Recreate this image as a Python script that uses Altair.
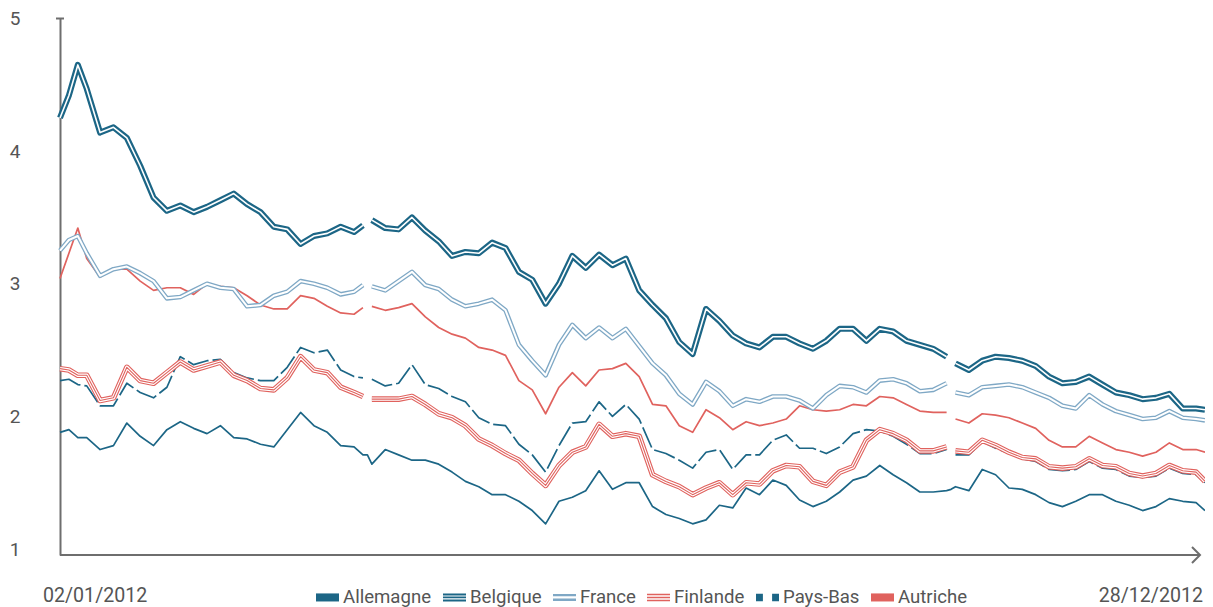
import altair as alt
import pandas as pd

# trading-day index (0 = 02/01/2012, 257 = 28/12/2012); None = missing quote
days = [0, 2, 4, 6,
        9, 12, 15, 18, 21, 24, 27, 30, 33, 36, 39, 42, 45, 48, 51, 54, 57, 60, 63, 66,
        68, 69, 70,
        73, 76, 79, 82, 85, 88, 91, 94, 97, 100, 103, 106, 109, 112, 115, 118, 121, 124,
        127, 130, 133, 136, 139, 142, 145, 148, 151, 154, 157, 160, 163, 166, 169, 172,
        175, 178, 181, 184, 187, 190, 193, 196,
        199, 200, 201,
        204, 207, 210, 213, 216, 219, 222, 225, 228, 231, 234, 237, 240, 243, 246, 249,
        252, 255, 257]

belgique = [4.25, 4.42, 4.65, 4.47,
            4.14, 4.18, 4.10, 3.89, 3.65, 3.55, 3.59, 3.54, 3.58, 3.63, 3.68, 3.60, 3.54, 3.43, 3.41, 3.30, 3.36, 3.38, 3.43, 3.39,
            3.44, None, 3.48,
            3.42, 3.41, 3.50, 3.40, 3.32, 3.21, 3.24, 3.23, 3.31, 3.27, 3.09, 3.03, 2.85, 3.00, 3.21, 3.12, 3.22, 3.14,
            3.19, 2.95, 2.84, 2.74, 2.56, 2.47, 2.81, 2.72, 2.61, 2.55, 2.52, 2.60, 2.60, 2.55, 2.51, 2.57,
            2.66, 2.66, 2.57, 2.66, 2.64, 2.57, 2.54, 2.51,
            2.45, None, 2.40,
            2.35, 2.42, 2.45, 2.44, 2.42, 2.38, 2.30, 2.25, 2.26, 2.30, 2.24, 2.18, 2.16, 2.13, 2.14, 2.17,
            2.06, 2.06, 2.05]

france = [3.25, 3.33, 3.36, 3.23,
          3.06, 3.11, 3.13, 3.08, 3.02, 2.89, 2.90, 2.95, 3.00, 2.97, 2.96, 2.83, 2.84, 2.91, 2.94, 3.02, 3.00, 2.97, 2.92, 2.94,
          2.99, None, 2.98,
          2.95, 3.02, 3.09, 2.99, 2.96, 2.88, 2.83, 2.85, 2.88, 2.80, 2.54, 2.42, 2.31, 2.54, 2.69, 2.59, 2.67, 2.59,
          2.66, 2.53, 2.40, 2.31, 2.17, 2.09, 2.26, 2.19, 2.08, 2.13, 2.11, 2.15, 2.15, 2.12, 2.06, 2.16,
          2.23, 2.22, 2.18, 2.27, 2.28, 2.25, 2.19, 2.20,
          2.25, None, 2.18,
          2.16, 2.22, 2.23, 2.24, 2.22, 2.18, 2.14, 2.08, 2.06, 2.16, 2.09, 2.04, 2.01, 1.98, 1.99, 2.04,
          1.99, 1.98, 1.97]

autriche = [3.04, 3.23, 3.42, 3.19,
            3.05, 3.11, 3.11, 3.02, 2.95, 2.97, 2.97, 2.92, 3.00, 2.98, 2.97, 2.91, 2.84, 2.81, 2.81, 2.91, 2.89, 2.83, 2.78, 2.77,
            2.82, None, 2.83,
            2.80, 2.82, 2.85, 2.75, 2.67, 2.62, 2.59, 2.52, 2.50, 2.46, 2.27, 2.20, 2.02, 2.22, 2.33, 2.23, 2.35, 2.36,
            2.40, 2.30, 2.09, 2.08, 1.93, 1.88, 2.05, 1.99, 1.90, 1.96, 1.93, 1.95, 1.98, 2.08, 2.05, 2.04,
            2.05, 2.09, 2.08, 2.15, 2.14, 2.09, 2.04, 2.03,
            2.03, None, 1.98,
            1.95, 2.02, 2.01, 1.99, 1.95, 1.91, 1.82, 1.77, 1.77, 1.85, 1.80, 1.75, 1.73, 1.70, 1.73, 1.80,
            1.75, 1.75, 1.73]

finlande = [2.36, 2.35, 2.31, 2.31,
            2.12, 2.14, 2.37, 2.27, 2.25, 2.33, 2.41, 2.35, 2.38, 2.41, 2.31, 2.27, 2.21, 2.20, 2.29, 2.45, 2.35, 2.33, 2.22, 2.18,
            2.15, None, 2.13,
            2.13, 2.13, 2.15, 2.09, 2.02, 1.99, 1.93, 1.83, 1.78, 1.72, 1.67, 1.57, 1.48, 1.63, 1.73, 1.77, 1.94, 1.85,
            1.87, 1.85, 1.56, 1.51, 1.47, 1.41, 1.46, 1.50, 1.41, 1.50, 1.49, 1.59, 1.63, 1.62, 1.51, 1.48,
            1.58, 1.62, 1.82, 1.90, 1.87, 1.82, 1.74, 1.74,
            1.77, None, 1.74,
            1.73, 1.82, 1.78, 1.73, 1.69, 1.68, 1.62, 1.61, 1.62, 1.68, 1.63, 1.62, 1.57, 1.55, 1.57, 1.63,
            1.59, 1.58, 1.51]

pays_bas = [2.27, 2.28, 2.24, 2.23,
            2.08, 2.08, 2.25, 2.18, 2.14, 2.22, 2.45, 2.39, 2.42, 2.43, 2.33, 2.29, 2.27, 2.27, 2.37, 2.52, 2.48, 2.50, 2.35, 2.30,
            2.29, None, 2.28,
            2.23, 2.25, 2.39, 2.24, 2.21, 2.15, 2.11, 1.99, 1.94, 1.93, 1.79, 1.71, 1.58, 1.78, 1.95, 1.96, 2.11, 2.00,
            2.09, 1.98, 1.75, 1.72, 1.67, 1.61, 1.73, 1.75, 1.60, 1.71, 1.71, 1.82, 1.86, 1.76, 1.76, 1.72,
            1.77, 1.87, 1.90, 1.89, 1.85, 1.79, 1.72, 1.72,
            1.75, None, 1.71,
            1.71, 1.81, 1.76, 1.72, 1.68, 1.66, 1.60, 1.59, 1.60, 1.66, 1.61, 1.60, 1.55, 1.54, 1.55, 1.61,
            1.57, 1.56, 1.50]

allemagne = [1.88, 1.90, 1.84, 1.84,
             1.75, 1.78, 1.95, 1.85, 1.78, 1.90, 1.96, 1.91, 1.87, 1.93, 1.84, 1.83, 1.79, 1.77, 1.90, 2.03, 1.93, 1.88, 1.78, 1.77,
             1.71, 1.71, 1.64,
             1.75, 1.71, 1.67, 1.67, 1.64, 1.58, 1.51, 1.47, 1.41, 1.41, 1.36, 1.29, 1.19, 1.36, 1.39, 1.44, 1.59, 1.45,
             1.50, 1.50, 1.32, 1.26, 1.23, 1.19, 1.22, 1.33, 1.31, 1.46, 1.41, 1.52, 1.48, 1.37, 1.32, 1.36,
             1.43, 1.52, 1.55, 1.63, 1.56, 1.50, 1.43, 1.43,
             1.44, 1.45, 1.47,
             1.44, 1.60, 1.56, 1.46, 1.45, 1.41, 1.35, 1.32, 1.36, 1.41, 1.41, 1.36, 1.33, 1.29, 1.32, 1.38,
             1.36, 1.35, 1.29]

names = ["Allemagne", "Belgique", "France", "Finlande", "Pays-Bas", "Autriche"]
date_labels = ["02/01/2012", "28/12/2012"]
y_ticks = [1, 2, 3, 4, 5]

DARK = "#1c6686"
LIGHT = "#7fa8c5"
RED = "#e0625e"
GRAY = "#6e6e6e"
TXT = "#555555"
FONT = "Roboto"

series = {"Allemagne": allemagne, "Belgique": belgique, "France": france,
          "Finlande": finlande, "Pays-Bas": pays_bas, "Autriche": autriche}
rows = []
for name, vals in series.items():
    seg = 0
    for t, v in zip(days, vals):
        if v is None:
            seg += 1
            continue
        rows.append({"t": t, "v": v, "pays": name, "seg": seg})
df = pd.DataFrame(rows)

W, H = 1145, 536.5
x = alt.X("t:Q", scale=alt.Scale(domain=[0, 257], nice=False, zero=False), axis=None)
y = alt.Y("v:Q", scale=alt.Scale(domain=[0.955, 5], nice=False, zero=False),
          axis=alt.Axis(values=y_ticks, ticks=False, grid=False, domainColor=GRAY, domainWidth=2,
                        labelFontSize=19, labelColor=TXT, labelFont=FONT, labelPadding=40,
                        title=None, format="d"))


def line(name, color, width, dash=None):
    kw = dict(color=color, strokeWidth=width, strokeJoin="round", strokeCap="butt")
    if dash:
        kw["strokeDash"] = dash
    return (alt.Chart(df).transform_filter(alt.datum.pays == name)
            .mark_line(**kw).encode(x=x, y=y, detail="seg:N", order="t:Q"))


layers = [
    line("Allemagne", DARK, 1.7),
    line("Pays-Bas", DARK, 1.7, [22, 4]),
    line("Finlande", RED, 5.6), line("Finlande", "white", 3.4), line("Finlande", RED, 1.1),
    line("Autriche", RED, 1.7),
    line("France", LIGHT, 4.6), line("France", "white", 2.0),
    line("Belgique", DARK, 6.0), line("Belgique", "white", 1.6),
]

paths = [
    "M-1,-0.35H1V0.35H-1Z",
    "M-1,-0.35H1V-0.17H-1Z M-1,-0.08H1V0.08H-1Z M-1,0.17H1V0.35H-1Z",
    "M-1,-0.3H1V-0.1H-1Z M-1,0.1H1V0.3H-1Z",
    "M-1,-0.33H1V-0.2H-1Z M-1,-0.065H1V0.065H-1Z M-1,0.2H1V0.33H-1Z",
    "M-1,-0.33H-0.4V0.33H-1Z M0.4,-0.33H1V0.33H0.4Z",
    "M-1,-0.35H1V0.35H-1Z",
]
leg_colors = [DARK, DARK, LIGHT, RED, DARK, RED]
leg = alt.Legend(orient="none", legendX=256, legendY=567, direction="horizontal", columns=6,
                 title=None, symbolSize=529, symbolStrokeWidth=0, symbolOpacity=1,
                 labelFontSize=18.6, labelFont=FONT, labelColor=TXT, labelOffset=4,
                 columnPadding=11)
legend_layer = (alt.Chart(df).transform_filter("false").mark_point(filled=True, opacity=1)
                .encode(x=x, y=y,
                        color=alt.Color("pays:N", scale=alt.Scale(domain=names, range=leg_colors), legend=leg),
                        shape=alt.Shape("pays:N", scale=alt.Scale(domain=names, range=paths), legend=leg)))

lab_df = pd.DataFrame({"t": [0, 257], "txt": date_labels})
first_lab = (alt.Chart(lab_df).transform_filter(alt.datum.t == 0)
             .mark_text(align="left", baseline="middle", dx=-17, fontSize=19.6, font=FONT, color=TXT)
             .encode(x=x, y=alt.value(H + 41), text="txt:N"))
last_lab = (alt.Chart(lab_df).transform_filter(alt.datum.t == 257)
            .mark_text(align="right", baseline="middle", dx=-2, fontSize=19.6, font=FONT, color=TXT)
            .encode(x=x, y=alt.value(H + 41), text="txt:N"))

one = pd.DataFrame({"k": [0]})
x_line = alt.Chart(one).mark_rule(color=GRAY, strokeWidth=2).encode(
    x=alt.value(0), x2=alt.value(W - 5), y=alt.value(H))
cap = alt.Chart(one).mark_rule(color=GRAY, strokeWidth=2).encode(
    x=alt.value(-4), x2=alt.value(4), y=alt.value(0))
arrow = alt.Chart(one).mark_point(shape="M-1,-1L0,0L-1,1", filled=False, size=256, strokeWidth=2,
                                  color=GRAY, opacity=1).encode(x=alt.value(W - 5), y=alt.value(H))

chart = alt.layer(*layers, legend_layer, first_lab, last_lab, x_line, cap, arrow).properties(
    width=W, height=H,
    padding={"left": 52, "top": 10.5, "right": 0, "bottom": 52},
    autosize=alt.AutoSizeParams(type="none"),
    background="white",
).configure_view(stroke=None)

chart.save("out.html", embed_options={"renderer": "svg", "actions": False})
